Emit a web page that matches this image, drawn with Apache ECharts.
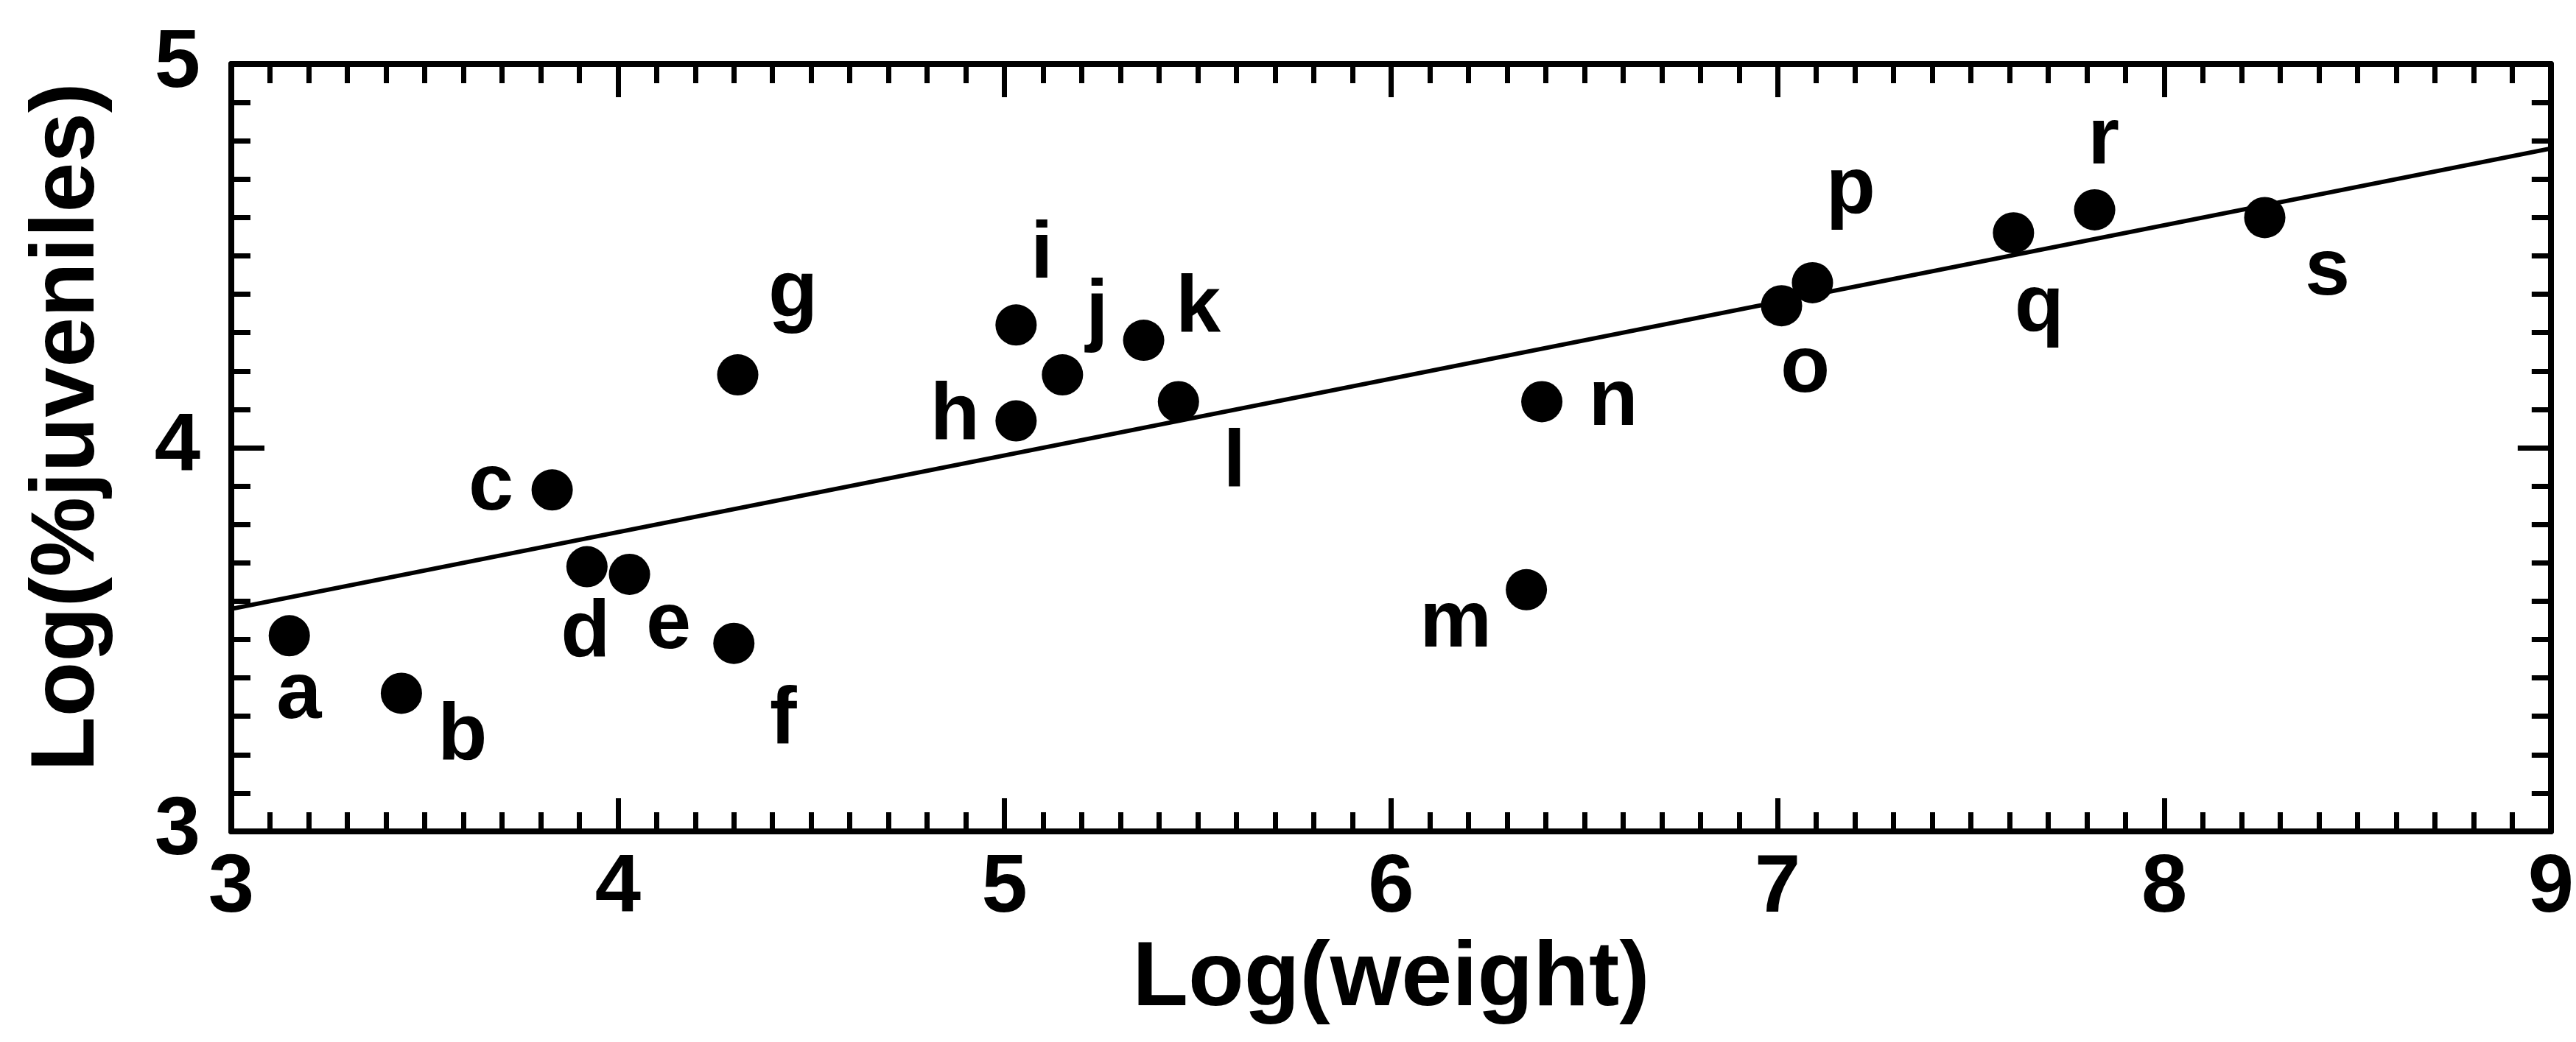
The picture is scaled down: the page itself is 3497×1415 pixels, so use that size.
<!DOCTYPE html>
<html>
<head>
<meta charset="utf-8">
<script src="https://cdn.jsdelivr.net/npm/echarts@6/dist/echarts.min.js"></script>
<style>
  html, body { margin: 0; padding: 0; background: #fff; }
  #chart { width: 3497px; height: 1415px; }
</style>
</head>
<body>
<div id="chart"></div>
<script>
// species labels and their log values
const names = ['a', 'b', 'c', 'd', 'e', 'f', 'g', 'h', 'i', 'j', 'k', 'l', 'm', 'n', 'o', 'p', 'q', 'r', 's']
const logWeight = [3.15, 3.44, 3.83, 3.92, 4.03, 4.30, 4.31, 5.03, 5.03, 5.15, 5.36, 5.45, 6.35, 6.39, 7.01, 7.09, 7.61, 7.82, 8.26]
const logJuveniles = [3.51, 3.36, 3.89, 3.69, 3.67, 3.49, 4.19, 4.07, 4.32, 4.19, 4.28, 4.12, 3.63, 4.12, 4.37, 4.43, 4.56, 4.62, 4.60]

// regression line end points
const fitX = [3, 9]
const fitY = [3.58, 4.78]

// where each letter sits relative to its dot (px)
const labelOffset = {
  a: [13, 81], b: [83, 59], c: [-83, -4], d: [-2, 91], e: [53, 70],
  f: [67, 105], g: [75, -109], h: [-83, -6], i: [35, -95], j: [47, -83],
  k: [74, -42], l: [76, 84], m: [-96, 47], n: [97, 1], o: [32, 86],
  p: [52, -125], q: [35, 102], r: [12, -93], s: [85, 74],
}

const FONT = '"Liberation Sans", Arial, sans-serif'
const INK = '#000'

function makeAxis(extra) {
  return Object.assign({
    type: 'value',
    interval: 1,
    axisLine: { show: true, onZero: false, lineStyle: { color: INK, width: 8 } },
    axisTick: { show: true, inside: true, length: 45, lineStyle: { color: INK, width: 7 } },
    minorTick: { show: true, splitNumber: 10, length: 26, lineStyle: { color: INK, width: 7 } },
    splitLine: { show: false },
    minorSplitLine: { show: false },
    axisLabel: { show: false },
  }, extra)
}

const chart = echarts.init(document.getElementById('chart'))
chart.setOption({
  backgroundColor: '#fff',
  animation: false,
  grid: { left: 314, right: 19, top: 87, bottom: 286 },
  xAxis: [
    makeAxis({
      position: 'bottom', min: 3, max: 9,
      name: 'Log(weight)', nameLocation: 'middle', nameGap: 140,
      nameTextStyle: { color: INK, fontFamily: FONT, fontWeight: 'bold', fontSize: 124 },
      axisLabel: { show: true, color: INK, fontFamily: FONT, fontWeight: 'bold', fontSize: 112, margin: 22 },
    }),
    makeAxis({ position: 'top', min: 3, max: 9 }),
  ],
  yAxis: [
    makeAxis({
      position: 'left', min: 3, max: 5,
      name: 'Log(%juveniles)', nameLocation: 'middle', nameGap: 160, nameRotate: 90,
      nameTextStyle: { color: INK, fontFamily: FONT, fontWeight: 'bold', fontSize: 122, padding: [0, 0, 0, 56] },
      axisLabel: { show: true, color: INK, fontFamily: FONT, fontWeight: 'bold', fontSize: 112, margin: 42 },
    }),
    makeAxis({ position: 'right', min: 3, max: 5 }),
  ],
  series: [
    {
      type: 'line',
      data: fitX.map((x, i) => [x, fitY[i]]),
      symbol: 'none',
      lineStyle: { color: INK, width: 6 },
      z: 2,
    },
    {
      type: 'scatter',
      symbol: 'circle',
      symbolSize: 56,
      itemStyle: { color: INK, opacity: 1 },
      data: names.map((n, i) => ({
        name: n,
        value: [logWeight[i], logJuveniles[i]],
        label: { offset: labelOffset[n] },
      })),
      label: {
        show: true,
        position: 'inside',
        formatter: (p) => p.name,
        color: INK,
        opacity: 1,
        fontFamily: FONT,
        fontWeight: 'bold',
        fontSize: 110,
      },
      z: 3,
    },
  ],
})
</script>
</body>
</html>
